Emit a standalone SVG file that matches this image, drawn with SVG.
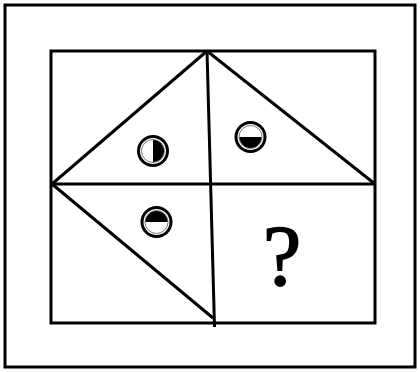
<svg xmlns="http://www.w3.org/2000/svg" width="420" height="372" viewBox="0 0 420 372">
<style>
.ln{stroke:#000;stroke-width:3;fill:none;stroke-linecap:butt}
.ring{stroke:#000;stroke-width:3;fill:#fff}
.half{fill:#000}
.inner{stroke:#555;stroke-width:0.8;fill:none}
.q{font-family:"Liberation Serif",serif;font-size:86px;fill:#000;stroke:#000;stroke-width:1.6;text-anchor:middle}
</style>
<rect width="420" height="372" fill="#fff"/>
<rect id="frame" x="5" y="5" width="410" height="362" class="ln"/>
<g id="connectors">
<rect x="51" y="51" width="324" height="272" class="ln"/>
<line x1="51" y1="184" x2="375" y2="184" class="ln"/>
<line x1="207" y1="51" x2="214.5" y2="327" class="ln"/>
<line x1="52" y1="184" x2="207" y2="51" class="ln"/>
<line x1="207" y1="51" x2="375" y2="184" class="ln"/>
<line x1="52" y1="184" x2="213" y2="318" class="ln"/>
</g>
<g id="c1">
<circle cx="153" cy="151" r="14.5" class="ring"/>
<circle cx="153" cy="151" r="11.5" class="inner"/>
<path d="M153 140 A11 11 0 0 1 153 162 Z" class="half"/>
</g>
<g id="c2">
<circle cx="250.5" cy="137" r="14.5" class="ring"/>
<circle cx="250.5" cy="137" r="11.5" class="inner"/>
<path d="M239.5 137 A11 11 0 0 0 261.5 137 Z" class="half"/>
</g>
<g id="c3">
<circle cx="156.5" cy="222" r="14.5" class="ring"/>
<circle cx="156.5" cy="222" r="11.5" class="inner"/>
<path d="M145.5 222 A11 11 0 0 1 167.5 222 Z" class="half"/>
</g>
<g id="q">
<text x="282" y="285" class="q">?</text>
</g>
</svg>
